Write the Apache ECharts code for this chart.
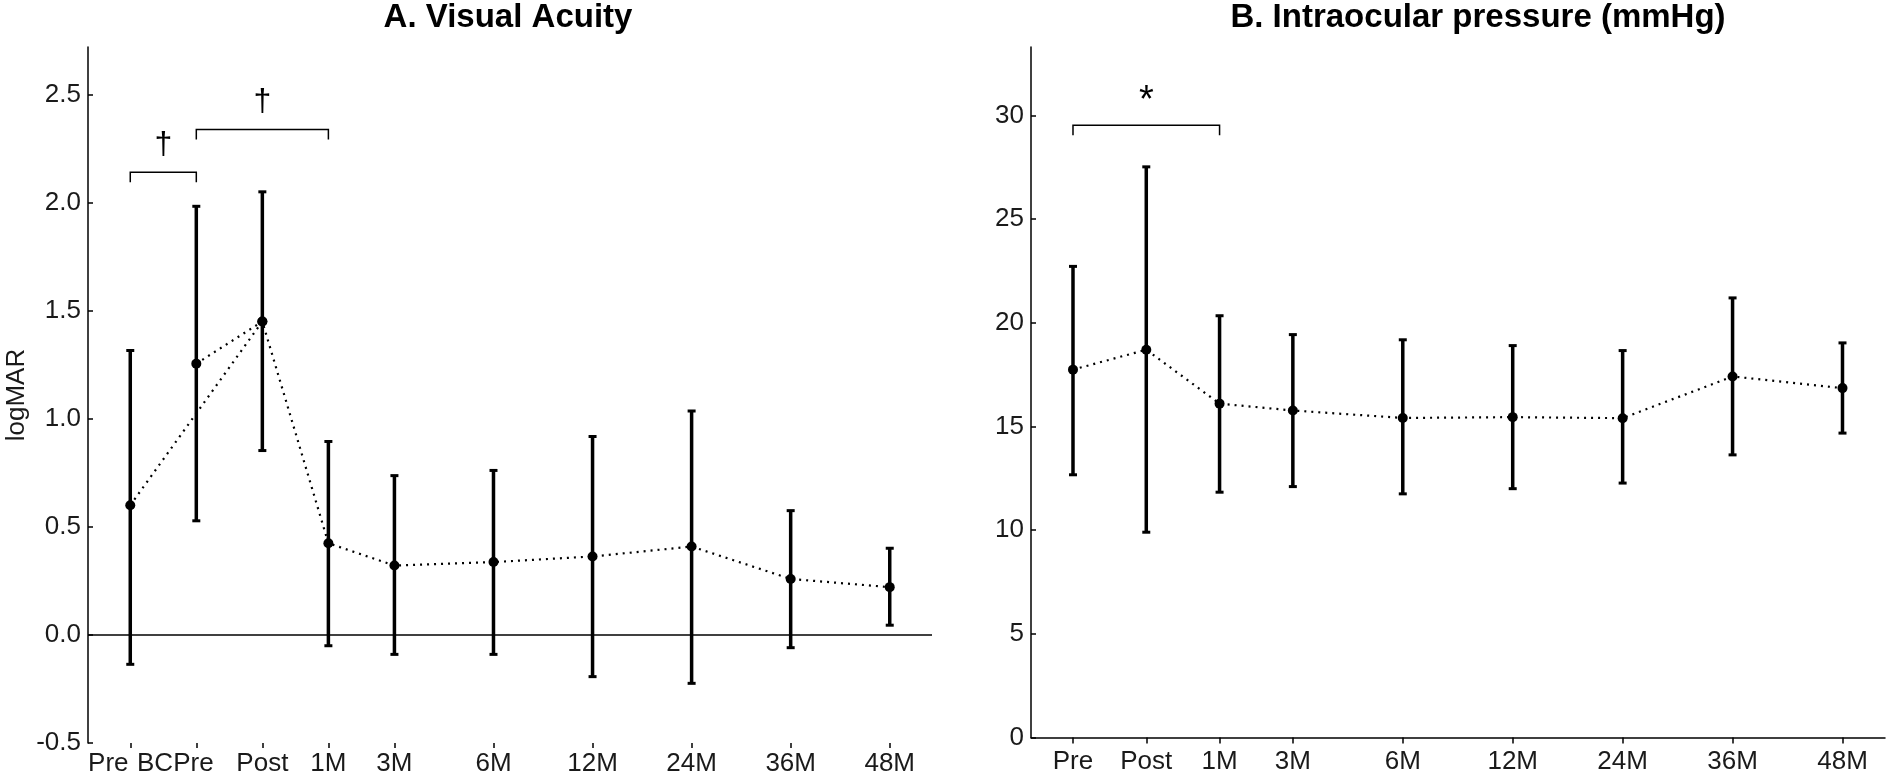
<!DOCTYPE html>
<html><head><meta charset="utf-8">
<script src="https://cdn.jsdelivr.net/npm/echarts@6/dist/echarts.min.js"></script>
<style>html,body{margin:0;padding:0;background:#fff}#c{width:1888px;height:780px}</style>
</head><body><div id="c"></div>
<script>
// ---- Panel A: Visual Acuity (logMAR) ----
const labelsA = ['Pre','BCPre','Post','1M','3M','6M','12M','24M','36M','48M'];
const xPosA   = [0, 1, 2, 3, 4, 5.5, 7, 8.5, 10, 11.5];
const meanA   = [0.60, 1.255, 1.45, 0.424, 0.321, 0.337, 0.363, 0.409, 0.259, 0.221];
const upperA  = [1.316, 1.983, 2.05, 0.895, 0.737, 0.761, 0.918, 1.036, 0.575, 0.401];
const lowerA  = [-0.136, 0.528, 0.853, -0.05, -0.09, -0.09, -0.193, -0.224, -0.059, 0.045];
const mainPathA   = ['Pre','Post','1M','3M','6M','12M','24M','36M','48M'];
const branchPathA = ['BCPre','Post'];
const yTicksA = [-0.5, 0, 0.5, 1.0, 1.5, 2.0, 2.5];
const sigA = [
  {from:'Pre',   to:'BCPre', y:2.14,  text:'\u2020'},
  {from:'BCPre', to:'1M',    y:2.338, text:'\u2020'}
];

// ---- Panel B: Intraocular pressure (mmHg) ----
const labelsB = ['Pre','Post','1M','3M','6M','12M','24M','36M','48M'];
const xPosB   = [0, 1, 2, 3, 4.5, 6, 7.5, 9, 10.5];
const meanB   = [17.74, 18.70, 16.10, 15.77, 15.41, 15.45, 15.40, 17.41, 16.85];
const upperB  = [22.72, 27.52, 20.34, 19.43, 19.18, 18.90, 18.66, 21.20, 19.03];
const lowerB  = [12.67, 9.90, 11.83, 12.10, 11.75, 12.00, 12.27, 13.63, 14.68];
const yTicksB = [0, 5, 10, 15, 20, 25, 30];
const sigB = [
  {from:'Pre', to:'1M', y:29.53, text:'*'}
];

const FONT = "'Liberation Sans', Arial, sans-serif";
const chart = echarts.init(document.getElementById('c'));

// label nudges (px, leftward) for the crowded first two labels of panel A
const labelShiftA = {Pre:22, BCPre:21};

function errBar(params, api) {
  const x = api.value(0);
  const lo = api.coord([x, api.value(1)]);
  const hi = api.coord([x, api.value(2)]);
  const cw = 4;
  return {type:'group', children:[
    {type:'line', shape:{x1:lo[0], y1:lo[1], x2:hi[0], y2:hi[1]}, style:{stroke:'#000', lineWidth:3.5}},
    {type:'line', shape:{x1:lo[0]-cw, y1:lo[1], x2:lo[0]+cw, y2:lo[1]}, style:{stroke:'#000', lineWidth:3}},
    {type:'line', shape:{x1:hi[0]-cw, y1:hi[1], x2:hi[0]+cw, y2:hi[1]}, style:{stroke:'#000', lineWidth:3}}
  ]};
}
function makeBracket(marks, fontSize, textGap) {
  return function(params, api) {
    const m = marks[params.dataIndex];
    const a = api.coord([api.value(0), api.value(2)]);
    const b = api.coord([api.value(1), api.value(2)]);
    const drop = 10;
    return {type:'group', children:[
      {type:'polyline', shape:{points:[[a[0], a[1]+drop],[a[0], a[1]],[b[0], b[1]],[b[0], b[1]+drop]]},
       style:{stroke:'#000', lineWidth:1.5, fill:null}},
      {type:'text', x:(a[0]+b[0])/2, y:a[1]-textGap,
       style:{text:m.text, font:'normal ' + fontSize + 'px ' + FONT, fill:'#000',
              align:'center', verticalAlign:'middle', textAlign:'center', textVerticalAlign:'middle'}}
    ]};
  };
}
function pathData(path, labels, xs, ys) {
  return path.map(l => { const i = labels.indexOf(l); return [xs[i], ys[i]]; });
}
function bracketData(marks, labels, xs) {
  return marks.map(m => [xs[labels.indexOf(m.from)], xs[labels.indexOf(m.to)], m.y]);
}
const lineStyle = {color:'#000', width:2.2, type:[2,5]};
const axisLabelBase = {fontSize:26, color:'#1a1a1a', fontFamily:FONT};
const richA = {};
Object.keys(labelShiftA).forEach(k => {
  richA['s' + k] = {fontSize:26, color:'#1a1a1a', fontFamily:FONT, padding:[0, 2*labelShiftA[k], 0, 0]};
});

const option = {
  animation:false,
  backgroundColor:'#fff',
  graphic:[
    {type:'text', x:508, y:18, style:{text:'A. Visual Acuity', font:'bold 33px ' + FONT, fill:'#000',
      align:'center', verticalAlign:'middle', textAlign:'center', textVerticalAlign:'middle'}},
    {type:'text', x:1478, y:18, style:{text:'B. Intraocular pressure (mmHg)', font:'bold 33px ' + FONT, fill:'#000',
      align:'center', verticalAlign:'middle', textAlign:'center', textVerticalAlign:'middle'}},
    {type:'text', x:17, y:395, rotation:Math.PI/2, style:{text:'logMAR', font:'normal 26px ' + FONT, fill:'#1a1a1a',
      align:'center', verticalAlign:'middle', textAlign:'center', textVerticalAlign:'middle'}}
  ],
  grid:[
    {left:88, right:956, top:47, bottom:37},
    {left:1031, right:3, top:47, bottom:42.5}
  ],
  xAxis:[
    {type:'value', gridIndex:0, min:-0.64, max:12.14,
     axisLine:{show:false, onZero:false}, splitLine:{show:false},
     axisTick:{show:true, customValues:xPosA, length:5, lineStyle:{color:'#000', width:1.5}},
     axisLabel:Object.assign({customValues:xPosA, margin:8, rich:richA,
       formatter:v => {
         const i = xPosA.indexOf(v); if (i < 0) return '';
         const l = labelsA[i];
         return labelShiftA[l] ? '{s' + l + '|' + l + '}' : l;
       }}, axisLabelBase)},
    {type:'value', gridIndex:1, min:-0.573, max:11.08,
     axisLine:{show:true, onZero:false, lineStyle:{color:'#000', width:1.5}}, splitLine:{show:false},
     axisTick:{show:true, customValues:xPosB, length:6, lineStyle:{color:'#000', width:1.5}},
     axisLabel:Object.assign({customValues:xPosB, margin:11,
       formatter:v => { const i = xPosB.indexOf(v); return i >= 0 ? labelsB[i] : ''; }}, axisLabelBase)}
  ],
  yAxis:[
    {type:'value', gridIndex:0, min:-0.5, max:2.72,
     axisLine:{show:true, onZero:false, lineStyle:{color:'#000', width:1.5}}, splitLine:{show:false},
     axisTick:{show:true, inside:true, length:5, customValues:yTicksA, lineStyle:{color:'#000', width:1.5}},
     axisLabel:Object.assign({customValues:yTicksA, margin:7, formatter:v => v.toFixed(1)}, axisLabelBase)},
    {type:'value', gridIndex:1, min:0, max:33.3,
     axisLine:{show:true, onZero:false, lineStyle:{color:'#000', width:1.5}}, splitLine:{show:false},
     axisTick:{show:true, inside:true, length:5, customValues:yTicksB, lineStyle:{color:'#000', width:1.5}},
     axisLabel:Object.assign({customValues:yTicksB, margin:7, formatter:v => String(v)}, axisLabelBase)}
  ],
  series:[
    {type:'line', xAxisIndex:0, yAxisIndex:0, data:pathData(mainPathA, labelsA, xPosA, meanA),
     symbol:'circle', symbolSize:10, itemStyle:{color:'#000'}, lineStyle:lineStyle, z:5,
     markLine:{silent:true, symbol:'none', label:{show:false},
       lineStyle:{color:'#000', width:1.5, type:'solid'}, data:[{yAxis:0}]}},
    {type:'line', xAxisIndex:0, yAxisIndex:0, data:pathData(branchPathA, labelsA, xPosA, meanA),
     symbol:'circle', symbolSize:10, itemStyle:{color:'#000'}, lineStyle:lineStyle, z:5},
    {type:'custom', xAxisIndex:0, yAxisIndex:0, renderItem:errBar,
     data:xPosA.map((x, i) => [x, lowerA[i], upperA[i]]), z:4},
    {type:'custom', xAxisIndex:0, yAxisIndex:0, renderItem:makeBracket(sigA, 32, 27),
     data:bracketData(sigA, labelsA, xPosA), z:4},

    {type:'line', xAxisIndex:1, yAxisIndex:1, data:xPosB.map((x, i) => [x, meanB[i]]),
     symbol:'circle', symbolSize:10, itemStyle:{color:'#000'}, lineStyle:lineStyle, z:5},
    {type:'custom', xAxisIndex:1, yAxisIndex:1, renderItem:errBar,
     data:xPosB.map((x, i) => [x, lowerB[i], upperB[i]]), z:4},
    {type:'custom', xAxisIndex:1, yAxisIndex:1, renderItem:makeBracket(sigB, 38, 24),
     data:bracketData(sigB, labelsB, xPosB), z:4}
  ]
};
chart.setOption(option);
</script>
</body></html>
